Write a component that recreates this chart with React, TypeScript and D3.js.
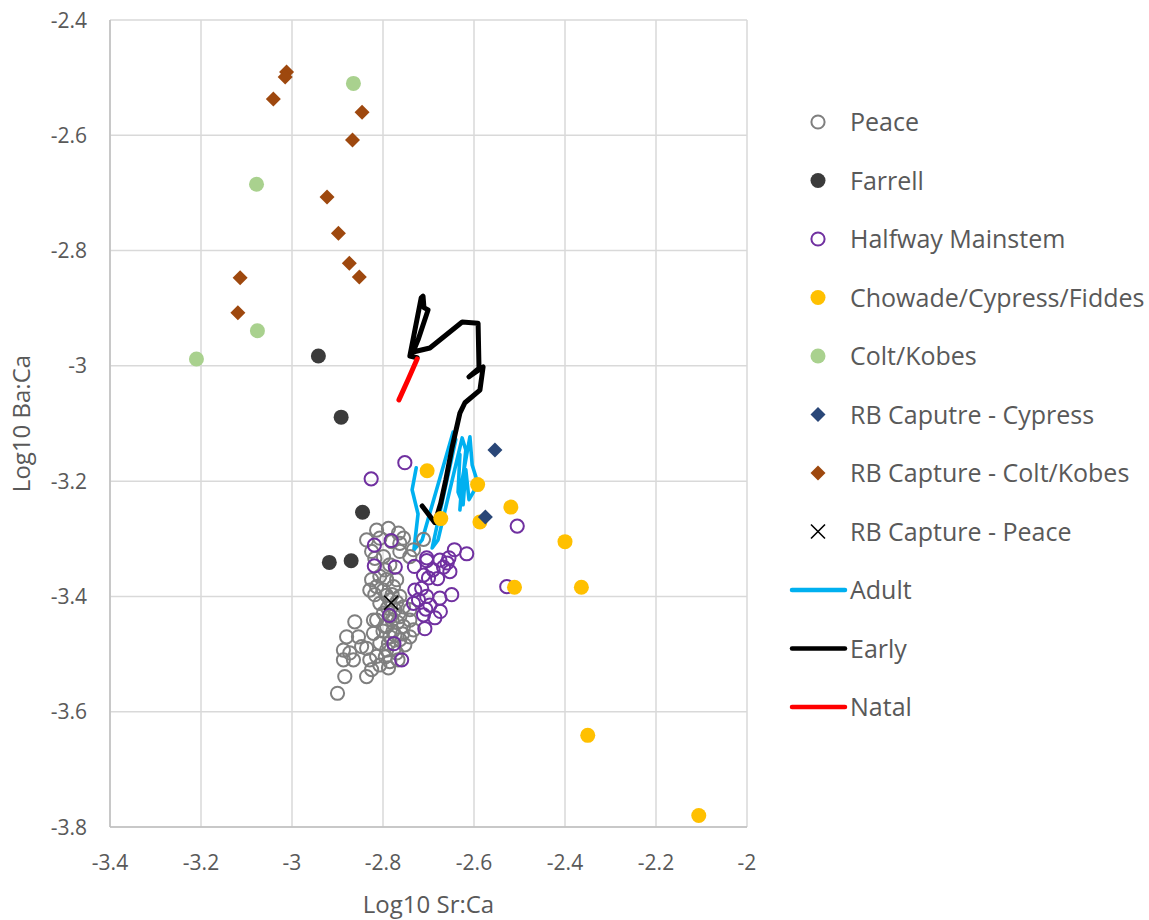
import React from "react";
import * as d3 from "d3";

type P = [number, number];

const peace: P[] = [[-2.814,-3.285],[-2.788,-3.282],[-2.766,-3.290],[-2.755,-3.299],[-2.836,-3.302],[-2.807,-3.299],[-2.781,-3.305],[-2.763,-3.308],[-2.825,-3.322],[-2.763,-3.322],[-2.741,-3.331],[-2.799,-3.331],[-2.818,-3.334],[-2.711,-3.301],[-2.733,-3.319],[-2.829,-3.389],[-2.825,-3.371],[-2.807,-3.365],[-2.792,-3.371],[-2.770,-3.371],[-2.814,-3.383],[-2.799,-3.389],[-2.777,-3.383],[-2.818,-3.397],[-2.763,-3.400],[-2.807,-3.412],[-2.755,-3.418],[-2.741,-3.423],[-2.799,-3.429],[-2.763,-3.435],[-2.741,-3.441],[-2.814,-3.441],[-2.792,-3.452],[-2.755,-3.452],[-2.733,-3.458],[-2.821,-3.464],[-2.785,-3.470],[-2.763,-3.475],[-2.807,-3.481],[-2.741,-3.470],[-2.792,-3.493],[-2.770,-3.498],[-2.814,-3.504],[-2.785,-3.513],[-2.788,-3.524],[-2.862,-3.444],[-2.880,-3.470],[-2.854,-3.470],[-2.887,-3.493],[-2.873,-3.498],[-2.847,-3.487],[-2.887,-3.510],[-2.865,-3.510],[-2.829,-3.510],[-2.836,-3.490],[-2.825,-3.527],[-2.836,-3.539],[-2.884,-3.539],[-2.900,-3.568],[-2.821,-3.441],[-2.785,-3.406],[-2.774,-3.423],[-2.796,-3.452],[-2.774,-3.467],[-2.752,-3.484],[-2.780,-3.441],[-2.807,-3.519],[-2.767,-3.510],[-2.796,-3.354],[-2.785,-3.345],[-2.780,-3.397],[-2.770,-3.410],[-2.790,-3.420],[-2.800,-3.460],[-2.775,-3.490],[-2.795,-3.505],[-2.778,-3.460],[-2.783,-3.435],[-2.792,-3.398],[-2.768,-3.445],[-2.788,-3.482],[-2.757,-3.465]];

const farrell: P[] = [[-2.942,-2.983],[-2.892,-3.089],[-2.845,-3.254],[-2.918,-3.341],[-2.870,-3.338]];

const halfway: P[] = [[-2.826,-3.196],[-2.752,-3.168],[-2.505,-3.278],[-2.528,-3.383],[-2.819,-3.311],[-2.782,-3.303],[-2.819,-3.347],[-2.773,-3.349],[-2.731,-3.348],[-2.704,-3.338],[-2.675,-3.337],[-2.655,-3.333],[-2.643,-3.319],[-2.616,-3.326],[-2.667,-3.349],[-2.653,-3.357],[-2.680,-3.369],[-2.700,-3.368],[-2.711,-3.363],[-2.715,-3.386],[-2.704,-3.400],[-2.722,-3.406],[-2.733,-3.412],[-2.675,-3.403],[-2.649,-3.397],[-2.706,-3.422],[-2.686,-3.437],[-2.674,-3.426],[-2.711,-3.432],[-2.708,-3.456],[-2.786,-3.433],[-2.776,-3.482],[-2.759,-3.510],[-2.659,-3.342],[-2.690,-3.354],[-2.730,-3.389],[-2.697,-3.415],[-2.704,-3.333]];

const chowade: P[] = [[-2.703,-3.182],[-2.673,-3.265],[-2.592,-3.206],[-2.587,-3.271],[-2.519,-3.245],[-2.400,-3.305],[-2.511,-3.384],[-2.364,-3.384],[-2.350,-3.641],[-2.106,-3.780]];

const coltKobes: P[] = [[-2.865,-2.510],[-3.078,-2.685],[-3.076,-2.939],[-3.210,-2.988]];

const rbCypress: P[] = [[-2.554,-3.146],[-2.575,-3.262]];

const rbColtKobes: P[] = [[-3.012,-2.490],[-3.015,-2.499],[-3.041,-2.537],[-2.846,-2.560],[-2.867,-2.608],[-2.923,-2.707],[-2.898,-2.770],[-2.874,-2.822],[-2.852,-2.846],[-3.114,-2.847],[-3.119,-2.908]];

const rbPeace: P[] = [[-2.782,-3.411]];

const adult: P[] = [[-2.727,-3.177],[-2.736,-3.215],[-2.723,-3.257],[-2.732,-3.319],[-2.714,-3.302],[-2.646,-3.115],[-2.640,-3.128],[-2.692,-3.316],[-2.679,-3.302],[-2.626,-3.125],[-2.618,-3.146],[-2.631,-3.250],[-2.626,-3.198],[-2.609,-3.123],[-2.604,-3.172],[-2.591,-3.205],[-2.611,-3.232],[-2.618,-3.180],[-2.624,-3.241],[-2.635,-3.219],[-2.631,-3.154]];

const early: P[] = [[-2.725,-2.986],[-2.741,-2.983],[-2.716,-2.882],[-2.712,-2.879],[-2.710,-2.899],[-2.701,-2.903],[-2.723,-2.955],[-2.734,-2.976],[-2.697,-2.969],[-2.626,-2.924],[-2.591,-2.926],[-2.589,-3.004],[-2.611,-3.019],[-2.580,-3.002],[-2.587,-3.042],[-2.620,-3.064],[-2.631,-3.082],[-2.648,-3.141],[-2.662,-3.198],[-2.673,-3.238],[-2.686,-3.272],[-2.714,-3.243]];

const natal: P[] = [[-2.765,-3.059],[-2.745,-3.024],[-2.725,-2.988]];

const xTicks = [-3.4, -3.2, -3, -2.8, -2.6, -2.4, -2.2, -2];
const yTicks = [-2.4, -2.6, -2.8, -3, -3.2, -3.4, -3.6, -3.8];

const legendItems = [
  { name: "Peace", kind: "openCircle", color: "#7F7F7F" },
  { name: "Farrell", kind: "circle", color: "#3B3B3B" },
  { name: "Halfway Mainstem", kind: "openCircle", color: "#7030A0" },
  { name: "Chowade/Cypress/Fiddes", kind: "circle", color: "#FFC000" },
  { name: "Colt/Kobes", kind: "circle", color: "#A9D18E" },
  { name: "RB Caputre - Cypress", kind: "diamond", color: "#2A4778" },
  { name: "RB Capture - Colt/Kobes", kind: "diamond", color: "#9E480E" },
  { name: "RB Capture - Peace", kind: "x", color: "#000000" },
  { name: "Adult", kind: "line", color: "#00B0F0" },
  { name: "Early", kind: "line", color: "#000000" },
  { name: "Natal", kind: "line", color: "#FF0000" },
];

const W = 1149, H = 920;
const plot = { left: 110, right: 747, top: 20, bottom: 827 };
const FONT = "'Open Sans', 'Noto Sans', sans-serif";
const TXT = "#595959";

function Marker({ kind, color, cx, cy }: { kind: string; color: string; cx: number; cy: number }) {
  if (kind === "openCircle")
    return <circle cx={cx} cy={cy} r={6.6} fill="none" stroke={color} strokeWidth={2} />;
  if (kind === "circle") return <circle cx={cx} cy={cy} r={7.5} fill={color} />;
  if (kind === "diamond") {
    const s = 7.5;
    return <path d={`M${cx},${cy - s}L${cx + s},${cy}L${cx},${cy + s}L${cx - s},${cy}Z`} fill={color} />;
  }
  if (kind === "x") {
    const s = 7;
    return (
      <path d={`M${cx - s},${cy - s}L${cx + s},${cy + s}M${cx - s},${cy + s}L${cx + s},${cy - s}`} stroke={color} strokeWidth={1.6} fill="none" />
    );
  }
  return null;
}

export default function App() {
  const x = d3.scaleLinear().domain([-3.4, -2]).range([plot.left, plot.right]);
  const y = d3.scaleLinear().domain([-2.4, -3.8]).range([plot.top, plot.bottom]);
  const line = d3.line<P>().x((d) => x(d[0])).y((d) => y(d[1]));

  const scatter: { data: P[]; kind: string; color: string }[] = [
    { data: peace, kind: "openCircle", color: "#7F7F7F" },
    { data: farrell, kind: "circle", color: "#3B3B3B" },
    { data: halfway, kind: "openCircle", color: "#7030A0" },
    { data: chowade, kind: "circle", color: "#FFC000" },
    { data: coltKobes, kind: "circle", color: "#A9D18E" },
    { data: rbCypress, kind: "diamond", color: "#2A4778" },
    { data: rbColtKobes, kind: "diamond", color: "#9E480E" },
    { data: rbPeace, kind: "x", color: "#000000" },
  ];

  const lines = [
    { data: adult, color: "#00B0F0", w: 3.6 },
    { data: early, color: "#000000", w: 5 },
    { data: natal, color: "#FF0000", w: 5 },
  ];

  const legX = 818, legText = 850, legY0 = 122, legDy = 58.5;

  return (
    <svg width={W} height={H} style={{ position: "absolute", left: 0, top: 0, background: "#fff" }} fontFamily={FONT}>
      <rect width={W} height={H} fill="#fff" />
      {xTicks.map((t) => (
        <line key={"gx" + t} x1={x(t)} x2={x(t)} y1={plot.top} y2={plot.bottom} stroke="#D9D9D9" strokeWidth={1.5} />
      ))}
      {yTicks.map((t) => (
        <line key={"gy" + t} x1={plot.left} x2={plot.right} y1={y(t)} y2={y(t)} stroke="#D9D9D9" strokeWidth={1.5} />
      ))}
      <line x1={plot.left} x2={plot.left} y1={plot.top} y2={plot.bottom} stroke="#BFBFBF" strokeWidth={1.5} />
      <line x1={plot.left} x2={plot.right} y1={plot.bottom} y2={plot.bottom} stroke="#BFBFBF" strokeWidth={1.5} />

      {xTicks.map((t) => (
        <text key={"tx" + t} x={x(t)} y={plot.bottom + 43} textAnchor="middle" fontSize={21} fill={TXT}>
          {d3.format("")(t).replace("−", "-")}
        </text>
      ))}
      {yTicks.map((t) => (
        <text key={"ty" + t} x={87} y={y(t) + 7.5} textAnchor="end" fontSize={21} fill={TXT}>
          {d3.format("")(t).replace("−", "-")}
        </text>
      ))}
      <text x={(plot.left + plot.right) / 2} y={913} textAnchor="middle" fontSize={24} fill={TXT}>
        Log10 Sr:Ca
      </text>
      <text transform={`translate(30,${(plot.top + plot.bottom) / 2}) rotate(-90)`} textAnchor="middle" fontSize={24} fill={TXT}>
        Log10 Ba:Ca
      </text>

      {lines.map((l, i) => (
        <path key={"l" + i} d={line(l.data) || ""} fill="none" stroke={l.color} strokeWidth={l.w} strokeLinejoin="round" strokeLinecap="round" />
      ))}

      {scatter.map((s, i) => (
        <g key={"s" + i}>
          {s.data.map((d, j) => (
            <Marker key={j} kind={s.kind} color={s.color} cx={x(d[0])} cy={y(d[1])} />
          ))}
        </g>
      ))}

      {legendItems.map((it, i) => {
        const cy = legY0 + i * legDy;
        return (
          <g key={"lg" + i}>
            {it.kind === "line" ? (
              <line x1={792} x2={845} y1={cy} y2={cy} stroke={it.color} strokeWidth={4.5} strokeLinecap="round" />
            ) : (
              <Marker kind={it.kind} color={it.color} cx={legX} cy={cy} />
            )}
            <text x={legText} y={cy + 9} fontSize={25} fill={TXT}>
              {it.name}
            </text>
          </g>
        );
      })}
    </svg>
  );
}
